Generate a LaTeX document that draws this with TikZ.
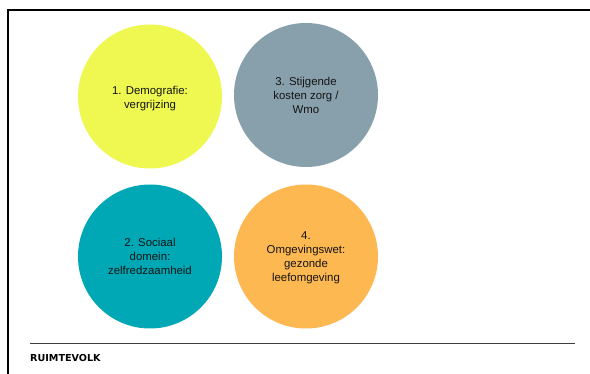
\documentclass[tikz,border=0pt]{standalone}
\usepackage{fontspec}
\setmainfont{Liberation Sans}
\newfontfamily\logofont{DejaVu Sans}
\definecolor{cyellow}{RGB}{238,248,80}
\definecolor{cgray}{RGB}{135,160,172}
\definecolor{cteal}{RGB}{0,168,182}
\definecolor{corange}{RGB}{253,184,82}
\definecolor{ctext}{RGB}{20,20,20}
\definecolor{cline}{RGB}{60,60,60}
\begin{document}
\begin{tikzpicture}[x=1pt,y=-1pt,
  bubble/.style={circle,minimum size=144pt,inner sep=0pt},
  label/.style={align=center,text=ctext,font=\fontsize{11.4}{14}\selectfont,inner sep=0pt}]
\useasboundingbox[fill=white] (0,0) rectangle (590,374);
% frame
\draw[line width=2pt] (7.7,374) -- (7.7,10) -- (590,10);
% circles
\node[bubble,fill=cyellow] (c1) at (150,96.5) {};
\node[bubble,fill=cgray] (c3) at (306,95) {};
\node[bubble,fill=cteal] (c2) at (150,256.5) {};
\node[bubble,fill=corange] (c4) at (306,256.5) {};
% labels
\node[label] (t1) at ([yshift=-2.5pt]c1.center) {1. Demografie:\\vergrijzing};
\node[label] (t3) at (c3.center) {3. Stijgende\\kosten zorg /\\Wmo};
\node[label] (t2) at (c2.center) {2. Sociaal\\domein:\\zelfredzaamheid};
\node[label] (t4) at ([yshift=-1pt]c4.center) {4.\\Omgevingswet:\\gezonde\\leefomgeving};
% footer
\draw[cline,line width=1.3pt] (30,343.7) -- (575,343.7);
\node[anchor=west,inner sep=0pt,font=\logofont\bfseries\fontsize{9.6}{10}\selectfont] (logo) at (30,358.4) {RUIMTEVOLK};
\end{tikzpicture}
\end{document}
